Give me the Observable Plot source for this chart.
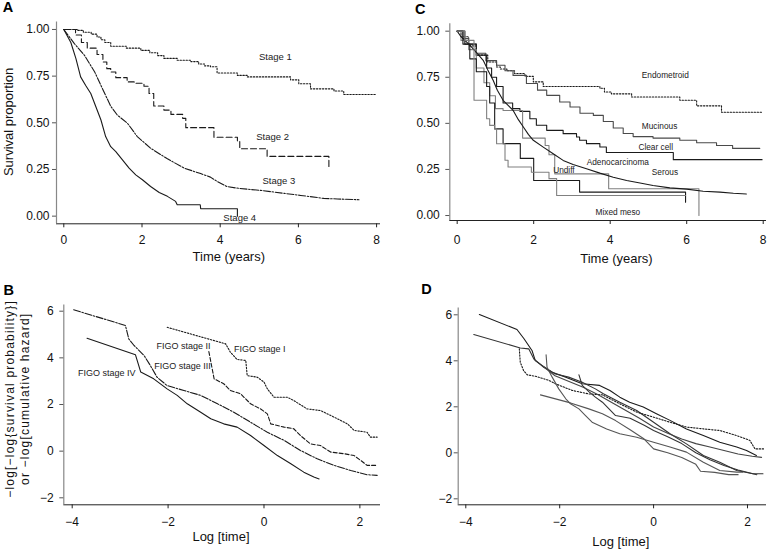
<!DOCTYPE html>
<html><head><meta charset="utf-8">
<script src="https://cdn.jsdelivr.net/npm/d3@7"></script>
<script src="https://cdn.jsdelivr.net/npm/@observablehq/plot@0.6"></script>
<style>
html,body{margin:0;padding:0;background:#fff;}
#fig{position:relative;width:772px;height:550px;overflow:hidden;background:#fff;}
#fig svg{position:absolute;}
</style></head><body><div id="fig"></div>
<script>
// ---------- Panel A: Kaplan-Meier by stage (time in years, survival proportion) ----------
const stageNames = ["Stage 1", "Stage 2", "Stage 3", "Stage 4"];
const stage1 = [[0,1],[0.35,0.995],[0.5,0.985],[0.7,0.975],[0.85,0.96],[0.95,0.945],[1.05,0.93],[1.2,0.91],[1.6,0.9],[1.97,0.888],[2.2,0.875],[2.4,0.86],[2.56,0.845],[2.9,0.835],[3.25,0.828],[3.45,0.815],[3.6,0.805],[3.75,0.8],[3.92,0.767],[4.44,0.754],[4.69,0.746],[5.8,0.73],[6.01,0.709],[6.31,0.682],[6.91,0.67],[7.16,0.652],[7.97,0.652]];
const stage2 = [[0,1],[0.3,0.97],[0.45,0.93],[0.6,0.9],[0.85,0.866],[1.0,0.826],[1.1,0.79],[1.2,0.772],[1.33,0.742],[1.62,0.719],[1.8,0.712],[2.05,0.696],[2.18,0.657],[2.3,0.59],[2.56,0.568],[2.74,0.545],[3.04,0.524],[3.12,0.474],[3.84,0.423],[4.44,0.4],[4.5,0.361],[5.2,0.32],[6.78,0.32],[6.78,0.262]];
const stage3 = [[0,1],[0.27,0.924],[0.53,0.861],[0.79,0.772],[0.95,0.7],[1.2,0.589],[1.37,0.541],[1.63,0.497],[1.88,0.426],[2.22,0.364],[2.65,0.307],[3.08,0.257],[3.5,0.228],[3.75,0.209],[3.93,0.185],[4.18,0.158],[4.5,0.148],[5.03,0.138],[5.64,0.122],[6.06,0.111],[6.65,0.095],[7.0,0.092],[7.55,0.088]];
const stage4 = [[0,1],[0.18,0.93],[0.31,0.844],[0.43,0.746],[0.56,0.7],[0.69,0.657],[0.82,0.586],[0.95,0.515],[1.07,0.426],[1.2,0.372],[1.33,0.346],[1.5,0.301],[1.67,0.257],[1.84,0.221],[2.01,0.195],[2.22,0.159],[2.44,0.127],[2.65,0.106],[2.86,0.079],[2.9,0.061],[3.49,0.061],[3.5,0.04],[4.44,0.04],[4.44,0.0]];
const stageLabelT = [5.41, 5.34, 5.5, 4.5];
const stageLabelS = [0.855, 0.423, 0.19, -0.008];

// ---------- Panel B: log-log by FIGO stage ----------
const figoNames = ["FIGO stage I", "FIGO stage II", "FIGO stage III", "FIGO stage IV"];
const figo1 = [[-2.02,5.31],[-0.8,4.6],[-0.7,4.24],[-0.56,3.93],[-0.38,3.89],[-0.35,3.24],[-0.14,3.17],[0.0,2.96],[0.07,2.67],[0.21,2.31],[0.49,2.31],[0.62,2.17],[0.9,1.81],[1.18,1.74],[1.46,1.46],[1.74,1.17],[1.88,0.89],[2.15,0.81],[2.22,0.6],[2.36,0.6]];
const figo2 = [[-1.15,4.27],[-1.04,3.1],[-0.84,2.89],[-0.7,2.6],[-0.49,2.46],[-0.28,2.03],[-0.07,1.81],[0.07,1.6],[0.14,1.17],[0.42,1.03],[0.62,0.96],[0.76,0.67],[0.97,0.31],[1.18,0.24],[1.39,-0.04],[1.67,-0.11],[1.88,-0.19],[2.02,-0.4],[2.15,-0.61],[2.36,-0.61]];
const figo3 = [[-3.97,6.06],[-2.89,5.39],[-2.82,4.81],[-2.71,4.53],[-2.5,4.1],[-2.37,3.67],[-2.23,3.17],[-2.02,2.81],[-1.67,2.6],[-1.32,2.39],[-0.97,2.03],[-0.63,1.67],[-0.28,1.24],[0.07,0.81],[0.42,0.46],[0.76,0.03],[1.11,-0.33],[1.46,-0.61],[1.81,-0.83],[2.15,-1.01],[2.36,-1.04]];
const figo4 = [[-3.69,4.84],[-2.68,4.13],[-2.57,3.39],[-2.3,3.1],[-2.02,2.67],[-1.81,2.39],[-1.6,2.03],[-1.32,1.67],[-1.11,1.39],[-0.84,1.17],[-0.56,1.03],[-0.28,0.67],[0.0,0.24],[0.28,-0.19],[0.56,-0.54],[0.83,-0.9],[1.04,-1.11],[1.15,-1.19]];
const figoLabelU = [-0.09, -1.68, -1.70, -3.28];
const figoLabelV = [4.39, 4.49, 3.64, 3.36];

// ---------- Panel C: Kaplan-Meier by histology ----------
const histNames = ["Endometroid", "Mucinous", "Clear cell", "Adenocarcinoma", "Serous", "Undiff", "Mixed meso"];
const endometroid = [[0,1],[0.1,0.97],[0.3,0.92],[0.5,0.87],[0.8,0.833],[1.03,0.806],[1.13,0.795],[1.3,0.785],[1.5,0.77],[1.77,0.755],[1.99,0.725],[2.25,0.7],[3.73,0.69],[3.85,0.67],[4.03,0.66],[4.56,0.643],[5.82,0.625],[6.26,0.595],[6.91,0.56],[7.96,0.56]];
const mucinous = [[0,1],[0.15,0.96],[0.3,0.93],[0.5,0.88],[0.75,0.84],[1.03,0.815],[1.25,0.785],[1.46,0.76],[1.81,0.716],[2.1,0.68],[2.34,0.652],[2.68,0.616],[2.95,0.589],[3.21,0.555],[3.56,0.543],[3.82,0.51],[4.08,0.475],[4.34,0.445],[4.6,0.428],[5.12,0.42],[5.82,0.408],[6.26,0.395],[6.78,0.38],[7.2,0.364],[7.91,0.364]];
const clearCell = [[0,1],[0.2,0.93],[0.5,0.87],[0.77,0.8],[0.9,0.75],[1.03,0.7],[1.2,0.61],[1.45,0.58],[1.64,0.565],[1.9,0.525],[2.07,0.49],[2.34,0.462],[2.77,0.444],[3.12,0.426],[3.2,0.408],[3.38,0.39],[3.73,0.372],[3.9,0.342],[5.65,0.303],[7.97,0.303]];
const adeno = [[0,1],[0.1,0.95],[0.3,0.9],[0.5,0.8],[0.7,0.72],[0.85,0.65],[1.0,0.58],[1.2,0.57],[1.71,0.42],[2.3,0.38],[2.4,0.33],[2.55,0.226],[3.96,0.145],[6.32,0.145],[6.32,0.0]];
const serous = [[0,1],[0.1,0.97],[0.33,0.924],[0.5,0.885],[0.68,0.842],[0.8,0.79],[0.94,0.734],[1.05,0.68],[1.2,0.625],[1.46,0.571],[1.6,0.52],[1.73,0.48],[1.86,0.44],[1.99,0.408],[2.25,0.371],[2.51,0.335],[2.77,0.299],[3.03,0.277],[3.38,0.254],[3.73,0.23],[4.08,0.208],[4.43,0.19],[4.78,0.176],[5.12,0.163],[5.56,0.15],[6.0,0.143],[6.43,0.132],[6.87,0.127],[7.22,0.121],[7.56,0.117]];
const undiff = [[0,1],[0.15,0.93],[0.33,0.85],[0.5,0.78],[0.77,0.7],[0.85,0.61],[0.98,0.47],[1.2,0.39],[1.65,0.31],[2.0,0.19],[3.2,0.127],[5.97,0.127],[5.97,0.072]];
const mixedMeso = [[0,1],[0.2,0.95],[0.44,0.625],[0.77,0.525],[0.85,0.489],[0.98,0.471],[1.03,0.389],[1.25,0.3],[1.33,0.263],[1.94,0.235],[2.4,0.2],[2.6,0.109],[5.97,0.109]];
const histLabelT = [5.44, 5.29, 5.19, 4.2, 5.43, 2.79, 4.2];
const histLabelS = [0.761, 0.484, 0.371, 0.29, 0.232, 0.245, 0.018];

// ---------- Panel D: log-log by histology ----------
const logHist1 = [[-3.71,6.01],[-2.91,5.36],[-2.76,4.96],[-2.59,4.45],[-2.52,4.01],[-2.37,3.79],[-2.16,3.5],[-1.87,3.29],[-1.52,3.0],[-1.15,2.93],[-0.93,2.71],[-0.72,2.42],[-0.51,2.2],[-0.22,1.99],[0.06,1.7],[0.35,1.41],[0.7,1.04],[1.06,0.75],[1.41,0.46],[1.77,0.25],[1.98,0.1],[2.19,-0.12]];
const logHist2 = [[-3.83,5.14],[-2.84,4.56],[-2.66,4.52],[-2.55,4.08],[-2.34,3.72],[-2.09,3.43],[-1.81,3.29],[-1.52,3.07],[-1.24,2.78],[-1.07,2.57],[-0.72,2.2],[-0.36,1.84],[0.0,1.33],[0.35,0.83],[0.7,0.39],[1.06,-0.12],[1.41,-0.41],[1.77,-0.77],[2.12,-0.91],[2.33,-0.91]];
const logHist3 = [[-2.86,4.52],[-2.84,3.94],[-2.77,3.58],[-2.69,3.39],[-2.52,3.33],[-2.23,3.15],[-2.09,3.0],[-1.73,2.71],[-1.38,2.56],[-1.09,2.52],[-0.72,2.13],[-0.36,1.77],[0.0,1.55],[0.35,1.33],[0.7,1.12],[1.06,1.04],[1.41,0.97],[1.77,0.75],[2.05,0.54],[2.16,0.17],[2.37,0.17]];
const logHist4 = [[-2.29,4.26],[-2.27,3.72],[-2.16,3.29],[-2.02,2.78],[-1.87,2.35],[-1.77,2.13],[-1.59,1.91],[-1.45,1.62],[-1.31,1.33],[-1.0,1.04],[-0.72,0.83],[-0.36,0.68],[0.0,0.46],[0.35,0.25],[0.7,0.03],[1.06,-0.41],[1.41,-0.77],[1.77,-0.84],[1.9,-0.84]];
const logHist5 = [[-1.59,3.39],[-1.52,2.93],[-1.38,2.66],[-1.24,2.42],[-1.09,2.2],[-0.95,1.91],[-0.81,1.62],[-0.5,1.5],[-0.2,1.2],[0.0,0.97],[0.3,0.7],[0.6,0.4],[0.9,0.0],[1.2,-0.3],[1.5,-0.55],[1.8,-0.75],[2.2,-0.95]];
const logHist6 = [[-2.41,2.52],[-1.77,2.17],[-1.38,1.91],[-1.09,1.7],[-0.81,1.4],[-0.5,1.0],[-0.2,0.6],[0.0,0.17],[0.3,0.0],[0.6,-0.2],[0.9,-0.5],[1.0,-0.8],[1.3,-0.85],[1.6,-0.95],[1.8,-0.95]];
const logHist7 = [[-2.35,3.75],[-2.1,3.35],[-1.8,3.1],[-1.5,2.85],[-1.2,2.55],[-0.9,2.2],[-0.6,1.85],[-0.3,1.5],[0.0,1.12],[0.3,0.85],[0.6,0.6],[0.9,0.4],[1.2,0.25],[1.5,0.1],[1.8,-0.05],[2.1,-0.15],[2.3,-0.2]];

// ---------- Tick values ----------
const timeTicks = [0, 2, 4, 6, 8];
const survTicks = [0, 0.25, 0.5, 0.75, 1];
const logTimeTicks = [-4, -2, 0, 2];
const logLogTicks = [-2, 0, 2, 4, 6];

// ---------- drawing ----------
const FONT = "'Liberation Sans', Arial, Helvetica, sans-serif";
const INK = "#1a1a1a";
const GRAY = "#808080";
const DOT = "1.4,1.6", DASH = "6,3", DASHDOT = "7,1.6,1.6,1.6";
const fmt2 = d3.format(".2f");
const fmtInt = d3.format("d");

function panel(cfg) {
  const marks = [
    Plot.ruleY([cfg.y[0]], {x1: cfg.x[0], x2: cfg.x[1], stroke: "#222", strokeWidth: 1}),
    Plot.ruleX([cfg.x[0]], {y1: cfg.y[0], y2: cfg.yTop, stroke: "#888", strokeWidth: 1.2}),
    Plot.axisX({ticks: cfg.xticks, tickSize: 4, tickPadding: cfg.xpad, label: null, fontSize: 12, stroke: "#222",
      tickFormat: cfg.xfmt}),
    Plot.axisY({ticks: cfg.yticks, tickSize: 4, tickPadding: cfg.ypad, label: null, fontSize: 12, stroke: "#555",
      tickFormat: cfg.yfmt})
  ];
  for (const s of cfg.series) {
    marks.push(Plot.line(s.data, {x: d => d[0], y: d => d[1], stroke: s.color || INK, strokeWidth: s.w || 1.1,
      strokeDasharray: s.dash, curve: s.curve || "linear"}));
  }
  if (cfg.labels) {
    const L = cfg.labels;
    marks.push(Plot.text(L.names.map((n, i) => ({n, x: L.x[i], y: L.y[i]})),
      {x: "x", y: "y", text: "n", fontSize: L.size, fill: "#222", textAnchor: "middle", lineAnchor: "middle"}));
  }
  marks.push(Plot.text([cfg.xlabel], {frameAnchor: "bottom", dx: cfg.xl[0], dy: cfg.xl[1], fontSize: 13,
    textAnchor: "middle", lineAnchor: "middle", fill: "#111"}));
  if (cfg.ylabel) marks.push(Plot.text([cfg.ylabel], {frameAnchor: "left", rotate: -90, dx: cfg.yl[0], dy: cfg.yl[1],
    fontSize: cfg.ylSize || 13, lineHeight: cfg.ylLine || 1, textAnchor: "middle", lineAnchor: "middle", fill: "#111"}));
  marks.push(Plot.text([cfg.letter], {frameAnchor: "top-left", dx: cfg.lt[0], dy: cfg.lt[1], fontSize: 14.5,
    fontWeight: "bold", textAnchor: "middle", lineAnchor: "middle", fill: "#000"}));
  const svg = Plot.plot({
    width: 386, height: 275,
    marginLeft: cfg.m[0], marginRight: cfg.m[1], marginTop: cfg.m[2], marginBottom: cfg.m[3],
    x: {domain: cfg.x}, y: {domain: [cfg.y[0], cfg.yTop]},
    style: {fontFamily: FONT, fontSize: "12px", background: "transparent", overflow: "visible", color: "#111"},
    marks
  });
  if (cfg.ylSpacing) {
    d3.select(svg).selectAll("text").filter(function() { return this.textContent.startsWith(cfg.ylabel.slice(0, 4)); })
      .attr("letter-spacing", cfg.ylSpacing);
  }
  svg.style.left = cfg.pos[0] + "px";
  svg.style.top = cfg.pos[1] + "px";
  document.getElementById("fig").appendChild(svg);
}

// Panel A
panel({
  pos: [0, 0], m: [56, 6, 21.5, 51.7],
  x: [-0.187, 8.10], y: [-0.041, 1.04], yTop: 1.04,
  xticks: timeTicks, yticks: survTicks, xfmt: fmtInt, yfmt: fmt2, xpad: 8, ypad: 3,
  series: [
    {data: stage1, dash: DOT, curve: "step-after"},
    {data: stage2, dash: DASH, curve: "step-after"},
    {data: stage3, dash: DASHDOT},
    {data: stage4}
  ],
  labels: {names: stageNames, x: stageLabelT, y: stageLabelS, size: 9.5},
  xlabel: "Time (years)", xl: [10.3, 32.7],
  ylabel: "Survival proportion", yl: [-48, -1],
  letter: "A", lt: [-48.5, -15]
});

// Panel C
panel({
  pos: [386, 0], m: [63.3, 6, 23.3, 55],
  x: [-0.193, 8.086], y: [-0.027, 1.04], yTop: 1.04,
  xticks: timeTicks, yticks: survTicks, xfmt: fmtInt, yfmt: fmt2, xpad: 10.5, ypad: 6,
  series: [
    {data: endometroid, dash: DOT, curve: "step-after"},
    {data: mucinous, color: "#4a4a4a", curve: "step-after"},
    {data: clearCell, color: INK, curve: "step-after"},
    {data: adeno, color: GRAY, curve: "step-after"},
    {data: serous, color: INK},
    {data: undiff, color: INK, curve: "step-after"},
    {data: mixedMeso, color: GRAY, curve: "step-after"}
  ],
  labels: {names: histNames, x: histLabelT, y: histLabelS, size: 8.3},
  xlabel: "Time (years)", xl: [8.3, 38.3],
  letter: "C", lt: [-29.5, -14]
});

// Panel B
panel({
  pos: [0, 275], m: [63.3, 6, 29.4, 45.7],
  x: [-4.175, 2.43], y: [-2.3, 6.27], yTop: 6.27,
  xticks: logTimeTicks, yticks: logLogTicks, xfmt: fmtInt, yfmt: fmtInt, xpad: 9, ypad: 6,
  series: [
    {data: figo1, dash: DOT},
    {data: figo2, dash: "4,2"},
    {data: figo3, dash: DASHDOT},
    {data: figo4}
  ],
  labels: {names: figoNames, x: figoLabelU, y: figoLabelV, size: 9},
  xlabel: "Log [time]", xl: [-1.2, 32.4],
  ylabel: "−log[−log{survival probability}]\nor −log[cumulative hazard]", yl: [-47, -6],
  ylSize: 12, ylLine: 1.2, ylSpacing: "1.2px",
  letter: "B", lt: [-55, -15]
});

// Panel D
panel({
  pos: [386, 275], m: [71.7, 6, 32.4, 45.7],
  x: [-4.162, 2.405], y: [-2.26, 6.3], yTop: 6.3,
  xticks: logTimeTicks, yticks: logLogTicks, xfmt: fmtInt, yfmt: fmtInt, xpad: 9, ypad: 2,
  series: [
    {data: logHist1, color: INK},
    {data: logHist2, color: "#333"},
    {data: logHist3, dash: DOT},
    {data: logHist4, color: "#555"},
    {data: logHist5, color: "#333"},
    {data: logHist6, color: "#555"},
    {data: logHist7, color: "#444"}
  ],
  xlabel: "Log [time]", xl: [8.5, 37.4],
  letter: "D", lt: [-31.7, -19]
});
</script></body></html>
